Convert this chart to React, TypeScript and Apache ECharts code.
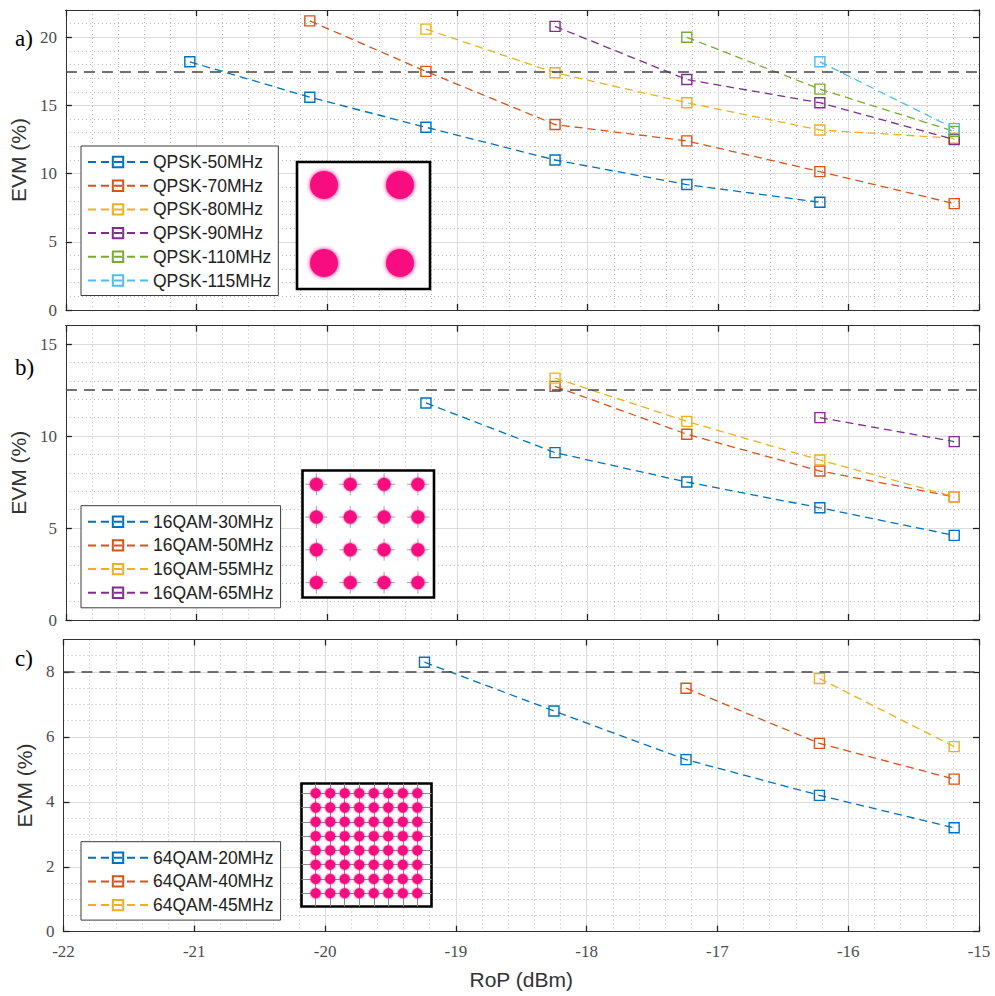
import React, { useEffect, useRef } from 'react';
import * as echarts from 'echarts';

// ---------- data ----------
const X_TICKS = [-22, -21, -20, -19, -18, -17, -16, -15];

const QPSK_NAMES = ['QPSK-50MHz', 'QPSK-70MHz', 'QPSK-80MHz', 'QPSK-90MHz', 'QPSK-110MHz', 'QPSK-115MHz'];
const QPSK_X = [
  [-21.05, -20.13, -19.24, -18.25, -17.24, -16.22],
  [-20.13, -19.24, -18.25, -17.24, -16.22, -15.19],
  [-19.24, -18.25, -17.24, -16.22, -15.19],
  [-18.25, -17.24, -16.22, -15.19],
  [-17.24, -16.22, -15.19],
  [-16.22, -15.19],
];
const QPSK_Y = [
  [18.2, 15.6, 13.4, 11.0, 9.2, 7.9],
  [21.2, 17.5, 13.6, 12.4, 10.15, 7.8],
  [20.6, 17.4, 15.2, 13.2, 12.6],
  [20.8, 16.9, 15.2, 12.5],
  [20.0, 16.2, 13.1],
  [18.2, 13.3],
];

const QAM16_NAMES = ['16QAM-30MHz', '16QAM-50MHz', '16QAM-55MHz', '16QAM-65MHz'];
const QAM16_X = [
  [-19.24, -18.25, -17.24, -16.22, -15.19],
  [-18.25, -17.24, -16.22, -15.19],
  [-18.25, -17.24, -16.22, -15.19],
  [-16.22, -15.19],
];
const QAM16_Y = [
  [11.8, 9.1, 7.5, 6.1, 4.6],
  [12.7, 10.1, 8.1, 6.7],
  [13.15, 10.8, 8.7, 6.7],
  [11.0, 9.7],
];

const QAM64_NAMES = ['64QAM-20MHz', '64QAM-40MHz', '64QAM-45MHz'];
const QAM64_X = [
  [-19.24, -18.25, -17.24, -16.22, -15.19],
  [-17.24, -16.22, -15.19],
  [-16.22, -15.19],
];
const QAM64_Y = [
  [8.3, 6.8, 5.3, 4.2, 3.2],
  [7.5, 5.8, 4.7],
  [7.8, 5.7],
];

const THRESHOLDS = [17.5, 12.5, 8];
const Y_MAX = [22, 16, 9];
const Y_MAJOR = [5, 5, 2];
const Y_MINOR = [1, 1, 0.5];
const PANEL_LABELS = ['a)', 'b)', 'c)'];

const QPSK_LEVELS = [-1, 1];
const QAM16_LEVELS = [-3, -1, 1, 3];
const QAM64_LEVELS = [-7, -5, -3, -1, 1, 3, 5, 7];

// ---------- layout / style ----------
const COLORS = ['#0072BD', '#D95319', '#EDB120', '#7E2F8E', '#77AC30', '#4DBEEE'];
const PINK = '#f80a80';
const SERIF = 'Liberation Serif';
const SANS = 'Liberation Sans';
const PLOT_LEFT = 63.5;
const PLOT_WIDTH = 915.5;
const GRID_LAYOUT = [
  { top: 10, height: 300 },
  { top: 325.7, height: 294.3 },
  { top: 639.5, height: 292.2 },
];
const LEGEND_TOPS = [146, 505.7, 841.7];
const PANEL_LABEL_Y = [38, 367, 658];
const INSET_LAYOUT = [
  { left: 297, top: 162, width: 133, height: 127 },
  { left: 302.5, top: 470.5, width: 131.5, height: 127 },
  { left: 301.5, top: 783.5, width: 130, height: 123 },
];
const INSET_X_RANGE = [[-1.71, 1.79], [-3.82, 3.95], [-8.95, 8.95]];
const INSET_Y_RANGE = [[-1.67, 1.59], [-3.91, 3.84], [-8.85, 8.37]];

function cross(levels: number[]) {
  const out: number[][] = [];
  levels.forEach((a) => levels.forEach((b) => out.push([a, b])));
  return out;
}

function buildOption() {
  const panels = [
    { names: QPSK_NAMES, xs: QPSK_X, ys: QPSK_Y },
    { names: QAM16_NAMES, xs: QAM16_X, ys: QAM16_Y },
    { names: QAM64_NAMES, xs: QAM64_X, ys: QAM64_Y },
  ];
  const dotted = { color: '#b8b8b8', type: [1, 3], width: 1 };
  const major = { color: '#dcdcdc', width: 1 };
  const axisLine = { show: true, onZero: false, lineStyle: { color: '#333', width: 1 } };
  const tickIn = { show: true, inside: true, length: 6, lineStyle: { color: '#222', width: 1.3 } };
  const noLabel = { show: false };

  const grid: any[] = [];
  const xAxis: any[] = [];
  const yAxis: any[] = [];
  const series: any[] = [];
  const legend: any[] = [];

  panels.forEach((p, i) => {
    grid.push({ left: PLOT_LEFT, width: PLOT_WIDTH, top: GRID_LAYOUT[i].top, height: GRID_LAYOUT[i].height, show: false });
    const xb = { type: 'value', gridIndex: i, min: X_TICKS[0], max: X_TICKS[X_TICKS.length - 1] };
    xAxis.push({ ...xb, position: 'top', interval: 0.2, axisLine, axisTick: { show: false }, axisLabel: noLabel, splitLine: { show: true, lineStyle: dotted } });
    xAxis.push({
      ...xb, position: 'bottom', interval: 1, axisLine, axisTick: tickIn,
      axisLabel: { show: i === 2, fontFamily: SERIF, fontSize: 17, color: '#4d4d4d', margin: 11 },
      splitLine: { show: true, lineStyle: major },
      name: i === 2 ? 'RoP (dBm)' : '', nameLocation: 'middle', nameGap: 37,
      nameTextStyle: { fontFamily: SANS, fontSize: 21, color: '#333' },
    });
    xAxis.push({ ...xb, position: 'top', interval: 1, axisLine, axisTick: tickIn, axisLabel: noLabel, splitLine: { show: false } });

    const yb = { type: 'value', gridIndex: i, min: 0, max: Y_MAX[i] };
    yAxis.push({ ...yb, position: 'right', interval: Y_MINOR[i], axisLine, axisTick: { show: false }, axisLabel: noLabel, splitLine: { show: true, lineStyle: dotted } });
    yAxis.push({
      ...yb, position: 'left', interval: Y_MAJOR[i], axisLine, axisTick: tickIn,
      axisLabel: { show: true, showMaxLabel: false, fontFamily: SERIF, fontSize: 17, color: '#4d4d4d', margin: 9 },
      splitLine: { show: true, lineStyle: major },
      name: 'EVM (%)', nameLocation: 'middle', nameGap: 27,
      nameTextStyle: { fontFamily: SANS, fontSize: 21, color: '#333' },
    });
    yAxis.push({ ...yb, position: 'right', interval: Y_MAJOR[i], axisLine, axisTick: tickIn, axisLabel: noLabel, splitLine: { show: false } });

    p.names.forEach((name, k) => {
      const c = COLORS[k];
      const s: any = {
        type: 'line', name, xAxisIndex: 3 * i + 1, yAxisIndex: 3 * i + 1,
        data: p.xs[k].map((x, m) => [x, p.ys[k][m]]),
        symbol: 'rect', symbolSize: 10, showAllSymbol: true,
        lineStyle: { color: c, width: 1.3, type: [8, 5] },
        itemStyle: { color: 'rgba(255,255,255,0)', borderColor: c, borderWidth: 1.4 },
        emphasis: { disabled: true }, z: 3,
      };
      if (k === 0) {
        s.markLine = {
          silent: true, symbol: ['none', 'none'], label: { show: false },
          lineStyle: { color: '#444', type: [11, 7], width: 1.7 },
          data: [{ yAxis: THRESHOLDS[i] }],
        };
      }
      series.push(s);
    });

    legend.push({
      orient: 'vertical', left: 81, top: LEGEND_TOPS[i], data: p.names,
      itemWidth: 60, itemHeight: 13, itemGap: 5.7, padding: [7, 7, 6, 6],
      backgroundColor: '#fff', borderColor: '#3c3c3c', borderWidth: 1, borderRadius: 0,
      textStyle: { fontFamily: SANS, fontSize: 17.5, color: '#222', lineHeight: 18 },
      selectedMode: false,
    });
  });

  // insets (constellations)
  const insetLevels = [QPSK_LEVELS, QAM16_LEVELS, QAM64_LEVELS];
  const blobSize = [28, 13, 10];
  insetLevels.forEach((lv, j) => {
    const gi = 3 + j;
    const L = INSET_LAYOUT[j];
    grid.push({ ...L, show: true, backgroundColor: '#fff', borderColor: '#000', borderWidth: 2.6, z: 3 });
    const gridLines = j === 2;
    xAxis.push({
      type: 'value', gridIndex: gi, min: INSET_X_RANGE[j][0], max: INSET_X_RANGE[j][1], show: gridLines, z: 4,
      axisLine: { show: false }, axisLabel: { show: false },
      axisTick: { show: false, customValues: QAM64_LEVELS },
      splitLine: { show: gridLines, lineStyle: { color: '#8c8c8c', width: 1 } },
    });
    yAxis.push({
      type: 'value', gridIndex: gi, min: INSET_Y_RANGE[j][0], max: INSET_Y_RANGE[j][1], show: gridLines, z: 4,
      axisLine: { show: false }, axisLabel: { show: false },
      axisTick: { show: false, customValues: QAM64_LEVELS },
      splitLine: { show: gridLines, lineStyle: { color: '#8c8c8c', width: 1 } },
    });
    const pts = cross(lv);
    if (j === 1) {
      series.push({
        type: 'scatter', xAxisIndex: 9 + j, yAxisIndex: 9 + j, data: pts, silent: true, z: 4,
        symbol: 'path://M0,5L10,5M5,0L5,10', symbolSize: 22,
        itemStyle: { color: 'rgba(0,0,0,0)', borderColor: '#8c8c8c', borderWidth: 1 },
      });
    }
    series.push({
      type: 'scatter', xAxisIndex: 9 + j, yAxisIndex: 9 + j, data: pts, silent: true, z: 5,
      symbol: 'circle', symbolSize: blobSize[j],
      itemStyle: { color: PINK, opacity: 1, shadowBlur: j === 0 ? 4 : 2, shadowColor: PINK },
    });
  });

  return {
    animation: false,
    backgroundColor: '#fff',
    grid, xAxis, yAxis, series, legend,
    graphic: PANEL_LABELS.map((t, i) => ({
      type: 'text', x: 15, y: PANEL_LABEL_Y[i], z: 10,
      style: { text: t, fontFamily: SERIF, fontSize: 23, fill: '#000', verticalAlign: 'middle' },
    })),
  };
}

export default function App() {
  const ref = useRef<HTMLDivElement>(null);
  useEffect(() => {
    document.body.style.margin = '0';
    const chart = echarts.init(ref.current!, undefined, { renderer: 'svg' });
    chart.setOption(buildOption() as any);
    return () => chart.dispose();
  }, []);
  return <div ref={ref} style={{ width: 995, height: 996 }} />;
}
